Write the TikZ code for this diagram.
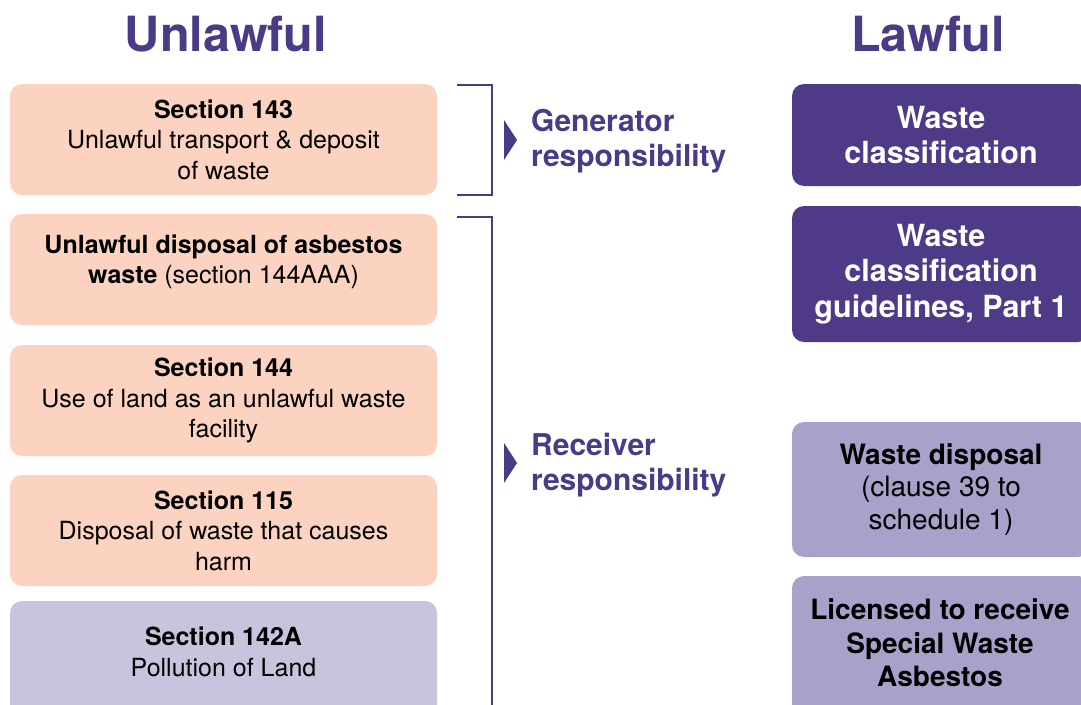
\documentclass[tikz,border=0pt]{standalone}
\usepackage{fontspec}
\setmainfont{TeX Gyre Heros}
\definecolor{titlepurple}{HTML}{4B3A86}
\definecolor{salmon}{HTML}{FCD3C1}
\definecolor{lav}{HTML}{C9C4DE}
\definecolor{darkp}{HTML}{4E3A86}
\definecolor{midp}{HTML}{A9A1C9}
\begin{document}
\begin{tikzpicture}[x=1pt,y=-1pt,
  lbox/.style={fill=salmon, rounded corners=12pt, minimum width=427pt, inner sep=0pt, align=center, font=\fontsize{25}{30.5}\selectfont, text=black},
  ltxt/.style={font=\fontsize{25}{30.5}\selectfont, align=center, inner sep=0pt},
  rbox/.style={fill=darkp, rounded corners=12pt, minimum width=298pt, inner sep=0pt, align=center, font=\fontsize{30.5}{35.5}\selectfont\bfseries, text=white},
  mbox/.style={fill=midp, rounded corners=12pt, minimum width=298pt, inner sep=0pt, align=center, font=\fontsize{28}{32.5}\selectfont, text=black},
  ttl/.style={font=\fontsize{48.5}{52}\selectfont\bfseries, text=titlepurple},
  resp/.style={font=\fontsize{30}{35.5}\selectfont\bfseries, text=titlepurple, align=left, anchor=west, inner sep=0pt},
  brk/.style={draw=titlepurple, line width=2.2pt},
  tri/.style={fill=titlepurple}
]
\useasboundingbox (0,0) rectangle (1081,704);
\clip (0,0) rectangle (1081,704);
\fill[white] (0,0) rectangle (1081,704);

\node[ttl] (tu) at (226,34) {Unlawful};
\node[ttl] (tl) at (928,34) {Lawful};

% left boxes
\node[lbox, minimum height=111pt] (l1) at (223.5,139.5) {\textbf{Section 143}\\Unlawful transport \& deposit\\of waste};
\node[lbox, minimum height=111pt] (l2) at (223.5,269.5) {};
\node[ltxt] (l2t) at (223.5,262) {\textbf{Unlawful disposal of asbestos}\\\textbf{waste} (section 144AAA)};
\node[lbox, minimum height=111pt] (l3) at (223.5,400.5) {\textbf{Section 144}\\Use of land as an unlawful waste\\facility};
\node[lbox, minimum height=111pt] (l4) at (223.5,530.5) {\textbf{Section 115}\\Disposal of waste that causes\\harm};
\node[lbox, fill=lav, minimum height=130pt] (l5) at (223.5,666) {};
\node[ltxt] (l5t) at (223.5,652) {\textbf{Section 142A}\\Pollution of Land};

% brackets
\coordinate (b1a) at (457,85);
\coordinate (b1b) at (492,85);
\coordinate (b1c) at (492,195);
\coordinate (b1d) at (457,195);
\draw[brk] (b1a) -- (b1b) -- (b1c) -- (b1d);
\coordinate (b2a) at (457,217);
\coordinate (b2b) at (492,217);
\coordinate (b2c) at (492,720);
\draw[brk] (b2a) -- (b2b) -- (b2c);

% triangles
\fill[tri] (504,120) -- (517,140) -- (504,160) -- cycle;
\fill[tri] (504,443) -- (517,463) -- (504,483) -- cycle;

\node[resp] (gen) at (531,141) {Generator\\responsibility};
\node[resp] (rec) at (531,465) {Receiver\\responsibility};

% right boxes
\node[rbox, minimum height=102pt] (r1) at (941,135) {Waste\\classification};
\node[rbox, minimum height=136pt] (r2) at (941,274) {Waste\\classification\\guidelines, Part 1};
\node[mbox, minimum height=135pt] (r3) at (941,489.5) {\textbf{Waste disposal}\\(clause 39 to\\schedule 1)};
\node[mbox, minimum height=150pt] (r4) at (941,651) {};
\node[font=\fontsize{28}{33.5}\selectfont\bfseries, align=center, inner sep=0pt] (r4t) at (940,643) {Licensed to receive\\Special Waste\\Asbestos};
\end{tikzpicture}
\end{document}
